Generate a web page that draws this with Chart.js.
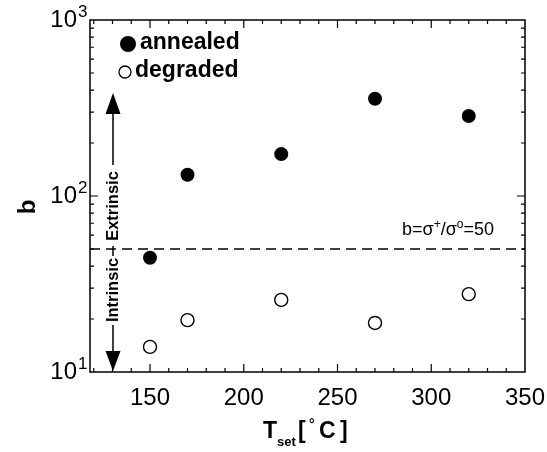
<!DOCTYPE html>
<html>
<head>
<meta charset="utf-8">
<script src="https://cdn.jsdelivr.net/npm/chart.js@4.4.1/dist/chart.umd.min.js"></script>
<style>
  html, body { margin: 0; padding: 0; background: #fff; overflow: hidden; }
  #wrap { width: 547px; height: 452px; position: relative; }
</style>
</head>
<body>
<div id="wrap"><canvas id="bChart"></canvas></div>
<script>
// values
const temps = [150, 170, 220, 270, 320];
const annealed = [44.6, 132, 173, 357, 285];
const degraded = [13.9, 19.7, 25.7, 19.0, 27.7];
const threshold = 50;
const xRange = [118, 350];
const xTicks = [150, 200, 250, 300, 350];
const yTicks = [10, 100, 1000];
const yExp = ['1', '2', '3'];

const FONT = '"Liberation Sans", Arial, Helvetica, sans-serif';

function pts(ys) {
    return temps.map((t, i) => ({ x: t, y: ys[i] }));
}

// draws frame, inward ticks, labels and the annotations
const decorations = {
    id: 'decorations',
    afterDraw(chart) {
        const ctx = chart.ctx;
        const a = chart.chartArea;
        const xs = chart.scales.x;
        const ys = chart.scales.y;
        ctx.save();
        ctx.strokeStyle = '#000';
        ctx.fillStyle = '#000';

        // frame
        ctx.lineWidth = 1.5;
        ctx.strokeRect(a.left, a.top, a.right - a.left, a.bottom - a.top);

        // x ticks, every 10, longer every 50
        ctx.lineWidth = 1.2;
        ctx.beginPath();
        for (let v = 120; v < xRange[1]; v += 10) {
            const px = xs.getPixelForValue(v);
            const len = v % 50 === 0 ? 8 : 4;
            ctx.moveTo(px, a.bottom); ctx.lineTo(px, a.bottom - len);
            ctx.moveTo(px, a.top); ctx.lineTo(px, a.top + len);
        }
        // y ticks, log minor
        for (let dec = 10; dec < 1000; dec *= 10) {
            for (let m = 1; m < 10; m++) {
                const v = dec * m;
                if (v === 10) continue;
                const py = ys.getPixelForValue(v);
                const len = m === 1 ? 8 : 4;
                ctx.moveTo(a.left, py); ctx.lineTo(a.left + len, py);
                ctx.moveTo(a.right, py); ctx.lineTo(a.right - len, py);
            }
        }
        ctx.stroke();

        // x tick labels
        ctx.font = '24px ' + FONT;
        ctx.textAlign = 'center';
        ctx.textBaseline = 'middle';
        xTicks.forEach(v => {
            ctx.fillText(String(v), xs.getPixelForValue(v), 398);
        });

        // y tick labels with exponent
        yTicks.forEach((v, i) => {
            const py = ys.getPixelForValue(v);
            ctx.font = '24px ' + FONT;
            ctx.textAlign = 'right';
            ctx.textBaseline = 'middle';
            ctx.fillText('10', 77, py);
            ctx.font = '17px ' + FONT;
            ctx.textAlign = 'left';
            ctx.textBaseline = 'alphabetic';
            ctx.fillText(yExp[i], 78, py - 3);
        });

        // axis titles
        ctx.font = 'bold 24px ' + FONT;
        ctx.save();
        ctx.translate(28, 207);
        ctx.rotate(-Math.PI / 2);
        ctx.textAlign = 'center';
        ctx.textBaseline = 'middle';
        ctx.fillText('b', 0, 0);
        ctx.restore();

        ctx.textAlign = 'left';
        ctx.textBaseline = 'alphabetic';
        ctx.font = 'bold 23px ' + FONT;
        ctx.fillText('T', 263, 438);
        ctx.font = 'bold 13px ' + FONT;
        ctx.fillText('set', 277, 446);
        ctx.font = 'bold 23px ' + FONT;
        ctx.fillText('[', 298, 438);
        ctx.font = 'bold 14px ' + FONT;
        ctx.fillText('°', 309, 429);
        ctx.font = 'bold 23px ' + FONT;
        ctx.fillText('C', 319, 438);
        ctx.fillText(']', 340, 438);

        // legend
        ctx.beginPath();
        ctx.arc(128, 44, 8, 0, Math.PI * 2);
        ctx.fill();
        ctx.beginPath();
        ctx.lineWidth = 1.3;
        ctx.arc(125, 72, 6, 0, Math.PI * 2);
        ctx.stroke();
        ctx.font = 'bold 23px ' + FONT;
        ctx.textBaseline = 'middle';
        ctx.fillText('annealed', 140, 43);
        ctx.fillText('degraded', 135, 71);

        // threshold label
        const ty = ys.getPixelForValue(threshold) - 14;
        ctx.textBaseline = 'alphabetic';
        let x = 402;
        const piece = (txt, size, dy) => {
            ctx.font = size + 'px ' + FONT;
            ctx.fillText(txt, x, ty + dy);
            x += ctx.measureText(txt).width;
        };
        piece('b=σ', 18, 0);
        piece('+', 12, -7);
        piece('/σ', 18, 0);
        piece('o', 12, -7);
        piece('=50', 18, 0);

        // extrinsic / intrinsic arrows
        const ax = 113;
        ctx.lineWidth = 1.5;
        ctx.beginPath();
        ctx.moveTo(ax, 113); ctx.lineTo(ax, 165);
        ctx.moveTo(ax, 246); ctx.lineTo(ax, 256);
        ctx.moveTo(ax, 325); ctx.lineTo(ax, 353);
        ctx.stroke();
        ctx.beginPath();
        ctx.moveTo(ax, 93); ctx.lineTo(ax - 7.5, 114); ctx.lineTo(ax + 7.5, 114);
        ctx.closePath();
        ctx.fill();
        ctx.beginPath();
        ctx.moveTo(ax, 371); ctx.lineTo(ax - 7.5, 351); ctx.lineTo(ax + 7.5, 351);
        ctx.closePath();
        ctx.fill();

        ctx.font = 'bold 16.5px ' + FONT;
        ctx.textAlign = 'center';
        ctx.textBaseline = 'middle';
        ctx.save();
        ctx.translate(ax, 206);
        ctx.rotate(-Math.PI / 2);
        ctx.fillText('Extrinsic', 0, 0);
        ctx.restore();
        ctx.save();
        ctx.translate(ax, 290);
        ctx.rotate(-Math.PI / 2);
        ctx.fillText('Intrinsic', 0, 0);
        ctx.restore();

        ctx.restore();
    }
};

document.addEventListener('DOMContentLoaded', function() {
    const canvas = document.getElementById('bChart');
    new Chart(canvas, {
        type: 'scatter',
        data: {
            datasets: [
                {
                    label: 'annealed',
                    data: pts(annealed),
                    pointRadius: 7,
                    pointHoverRadius: 7,
                    backgroundColor: '#000',
                    borderColor: '#000',
                    borderWidth: 0
                },
                {
                    label: 'degraded',
                    data: pts(degraded),
                    pointRadius: 6.5,
                    pointHoverRadius: 6.5,
                    backgroundColor: '#fff',
                    borderColor: '#000',
                    borderWidth: 1.4
                },
                {
                    label: 'threshold',
                    data: [{ x: xRange[0], y: threshold }, { x: xRange[1], y: threshold }],
                    showLine: true,
                    pointRadius: 0,
                    borderColor: '#000',
                    borderWidth: 1.3,
                    borderDash: [10, 6]
                }
            ]
        },
        options: {
            responsive: true,
            maintainAspectRatio: false,
            animation: false,
            layout: { padding: { left: 0, top: 20, right: 22, bottom: 0 } },
            plugins: {
                legend: { display: false },
                tooltip: { enabled: false }
            },
            scales: {
                x: {
                    type: 'linear',
                    min: xRange[0],
                    max: xRange[1],
                    grid: { display: false },
                    border: { display: false },
                    ticks: { display: false },
                    afterFit: s => { s.height = 80; }
                },
                y: {
                    type: 'logarithmic',
                    min: 10,
                    max: 1000,
                    grid: { display: false },
                    border: { display: false },
                    ticks: { display: false },
                    afterFit: s => { s.width = 90; }
                }
            }
        },
        plugins: [decorations]
    });
});
</script>
</body>
</html>
